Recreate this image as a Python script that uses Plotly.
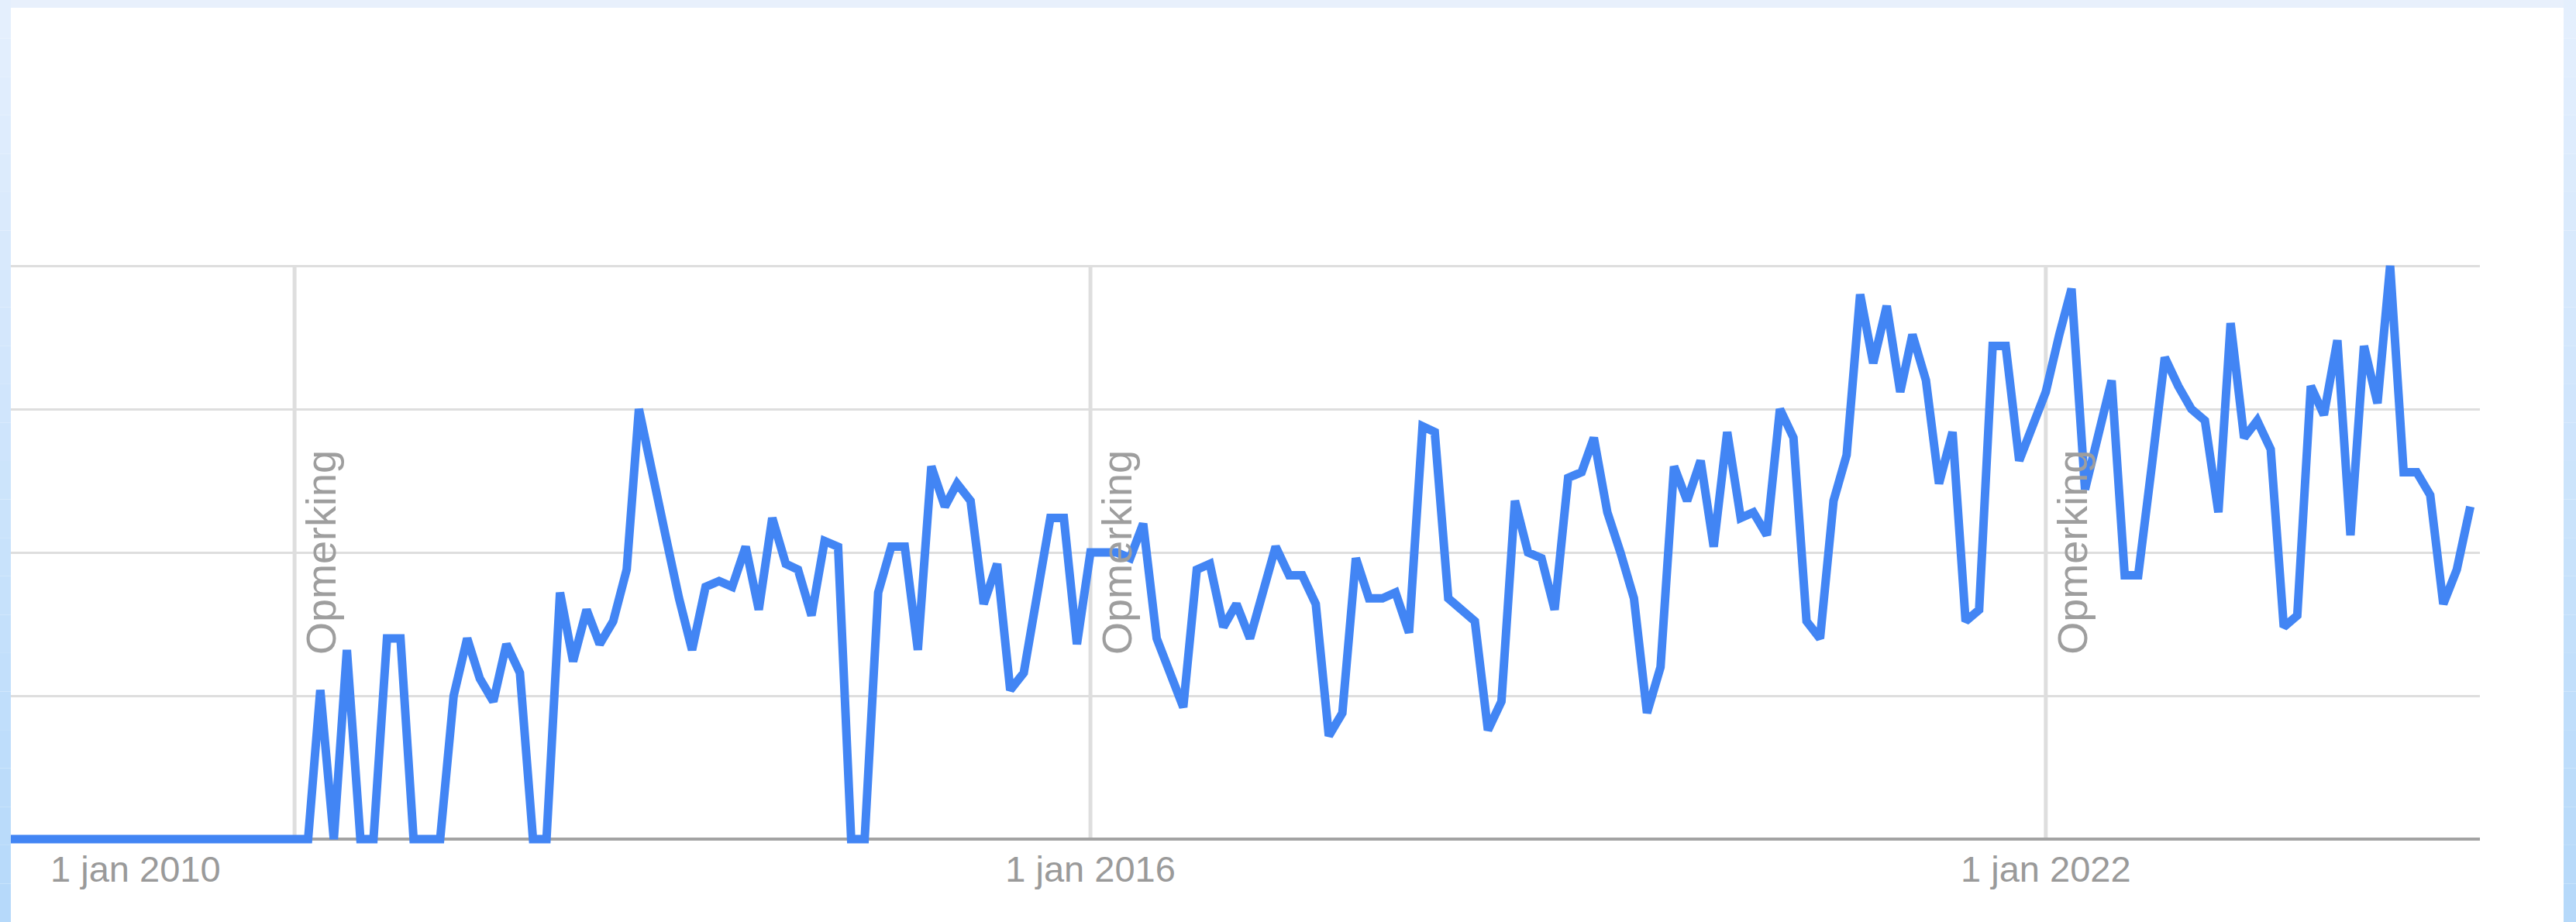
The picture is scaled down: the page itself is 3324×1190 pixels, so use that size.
import pandas as pd
import plotly.graph_objects as go

# monthly search interest (Google Trends style, 0-100), Jan 2009 .. Sep 2024
interest_2009 = [0] * 12
interest_2010 = [0] * 12
interest_2011 = [0, 0, 26, 0, 33, 0, 0, 35, 35, 0, 0, 0]
interest_2012 = [25, 35, 28, 24, 34, 29, 0, 0, 43, 31, 40, 34]
interest_2013 = [38, 47, 75, 63, 53, 42, 33, 44, 45, 44, 51, 40]
interest_2014 = [56, 48, 47, 39, 52, 51, 0, 0, 43, 51, 51, 33]
interest_2015 = [65, 58, 62, 59, 41, 48, 26, 29, 43, 56, 56, 34]
interest_2016 = [50, 50, 50, 49, 55, 35, 29, 23, 47, 48, 37, 41]
interest_2017 = [35, 43, 51, 46, 46, 41, 18, 22, 49, 42, 42, 43]
interest_2018 = [36, 72, 71, 42, 40, 38, 19, 24, 59, 50, 49, 40]
interest_2019 = [63, 64, 70, 57, 50, 42, 22, 30, 65, 59, 66, 51]
interest_2020 = [71, 56, 57, 53, 75, 70, 38, 35, 59, 67, 95, 83]
interest_2021 = [93, 78, 88, 80, 62, 71, 38, 40, 86, 86, 66, 72]
interest_2022 = [78, 88, 96, 61, 70, 80, 46, 46, 65, 84, 79, 75]
interest_2023 = [73, 57, 90, 70, 73, 68, 37, 39, 79, 74, 87, 53]
interest_2024 = [86, 76, 100, 64, 64, 60, 41, 47, 58]

values = (interest_2009 + interest_2010 + interest_2011 + interest_2012 + interest_2013
          + interest_2014 + interest_2015 + interest_2016 + interest_2017 + interest_2018
          + interest_2019 + interest_2020 + interest_2021 + interest_2022 + interest_2023
          + interest_2024)
months = pd.date_range("2009-01-01", periods=len(values), freq="MS")

tick_dates = ["2010-01-01", "2016-01-01", "2022-01-01"]
tick_labels = ["1 jan 2010", "1 jan 2016", "1 jan 2022"]
note_dates = ["2011-01-01", "2016-01-01", "2022-01-01"]
note_text = "Opmerking"

W, H = 3324, 1190
L, R, T, B = 14, 124, 10, 100

fig = go.Figure()
fig.add_trace(go.Scatter(
    x=months, y=values, mode="lines",
    line=dict(color="#4285f4", width=11),
    hoverinfo="skip", showlegend=False,
))

shapes = []
for d in note_dates:
    shapes.append(dict(type="line", xref="x", yref="y", x0=d, x1=d, y0=0, y1=100,
                       line=dict(color="#dedede", width=5), layer="below"))

# light blue page frame around the chart card
pw = W - L - R
ph = H - T - B
fx0, fx1 = -L / pw, (W - L) / pw
fy0, fy1 = -B / ph, 1 + T / ph
shapes.append(dict(type="rect", xref="paper", yref="paper", x0=fx0, x1=fx1,
                   y0=1, y1=fy1, fillcolor="#e8f0fc", line=dict(width=0), layer="above"))
top_c = (228, 239, 253)
bot_c = (182, 217, 250)
n = 24
for i in range(n):
    t = i / (n - 1)
    c = tuple(int(round(top_c[k] + (bot_c[k] - top_c[k]) * t)) for k in range(3))
    col = "rgb(%d,%d,%d)" % c
    ya = fy1 - (fy1 - fy0) * i / n
    yb = fy1 - (fy1 - fy0) * (i + 1) / n
    shapes.append(dict(type="rect", xref="paper", yref="paper", x0=fx0, x1=0,
                       y0=yb, y1=ya, fillcolor=col, line=dict(width=0), layer="above"))
    shapes.append(dict(type="rect", xref="paper", yref="paper",
                       x0=(W - L - 16) / pw, x1=fx1,
                       y0=yb, y1=ya, fillcolor=col, line=dict(width=0), layer="above"))

annotations = []
for d in note_dates:
    annotations.append(dict(x=d, y=50, xref="x", yref="y", text=note_text,
                            textangle=-90, showarrow=False, xanchor="left", yanchor="middle",
                            xshift=2, font=dict(family="Liberation Sans, Arial", size=54, color="#9e9e9e")))

fig.update_layout(
    width=W, height=H,
    margin=dict(l=L, r=R, t=T, b=B, pad=0),
    paper_bgcolor="white", plot_bgcolor="white",
    shapes=shapes, annotations=annotations,
    xaxis=dict(type="date", range=["2009-03-21", "2024-09-23"],
               tickvals=tick_dates, ticktext=tick_labels,
               showgrid=False, zeroline=False, showline=False, ticks="",
               tickfont=dict(family="Liberation Sans, Arial", size=47, color="#9a9a9a")),
    yaxis=dict(range=[-0.946, 145], tickvals=[0, 25, 50, 75, 100], showticklabels=False,
               showgrid=True, gridcolor="#dedede", gridwidth=3,
               zeroline=True, zerolinecolor="#a3a3a3", zerolinewidth=4, showline=False),
)

# page body has a default 8px margin; drop it so the figure fills the window exactly
fig.write_html("out.html", config={"displayModeBar": False},
               post_script="document.body.style.margin='0px';")
